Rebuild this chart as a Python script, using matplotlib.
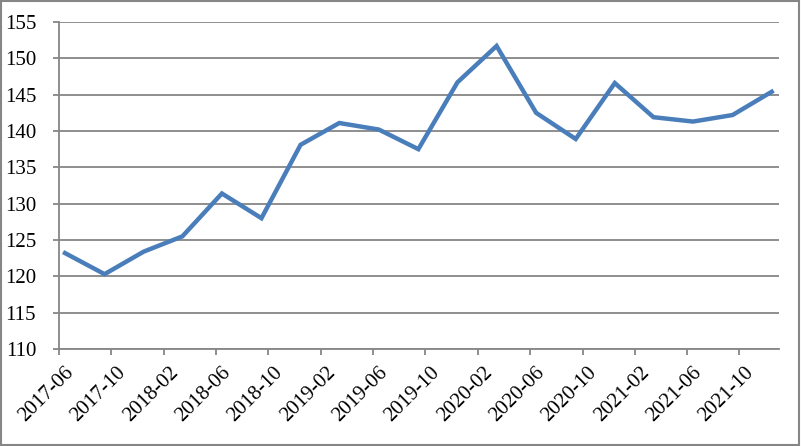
import numpy as np
import pandas as pd
import matplotlib
matplotlib.use("Agg")
import matplotlib.pyplot as plt
import matplotlib.transforms as mtransforms
from matplotlib.patches import Rectangle

# quarterly values
dates = pd.date_range("2017-06-01", periods=19, freq="3MS") + pd.Timedelta(days=14)
values = [123.2, 120.3, 123.4, 125.5, 131.4, 128.0, 138.1, 141.1, 140.2, 137.5,
          146.7, 151.7, 142.5, 138.9, 146.6, 141.9, 141.3, 142.2, 145.4]

tick_dates = pd.date_range("2017-06-01", "2021-10-01", freq="4MS")
tick_labels = [d.strftime("%Y-%m") for d in tick_dates]

grey = "#868686"
plt.rcParams["font.family"] = ["Liberation Serif", "DejaVu Serif"]
plt.rcParams["xtick.labelsize"] = 15
plt.rcParams["ytick.labelsize"] = 15

fig = plt.figure(figsize=(8.01, 4.46), dpi=100)
ax = fig.add_axes([59/801, 1-349/446, 720/801, 327/446])

ax.plot(dates, values, color="#4A7EBB", lw=3.2, solid_joinstyle="miter", zorder=3)

ax.set_ylim(110, 155)
ax.set_yticks(np.arange(110, 156, 5))
ax.set_xlim(pd.Timestamp("2017-06-01"), pd.Timestamp("2022-01-01"))
ax.set_xticks(tick_dates)
ax.set_xticklabels(tick_labels)

ax.grid(axis="y", color=grey, lw=1.3, zorder=0)
for s in ["top", "right"]:
    ax.spines[s].set_visible(False)
for s in ["left", "bottom"]:
    ax.spines[s].set_color(grey)
    ax.spines[s].set_linewidth(1.3)

ax.tick_params(axis="y", length=4.5, width=1.3, color=grey, pad=12)
ax.tick_params(axis="x", length=4, width=1.3, color=grey, pad=6)

off = mtransforms.ScaledTranslation(5/100, 0, fig.dpi_scale_trans)
for lab in ax.get_xticklabels():
    lab.set_rotation(45)
    lab.set_ha("right")
    lab.set_va("top")
    lab.set_rotation_mode("anchor")
    lab.set_transform(lab.get_transform() + off)

fig.patches.append(Rectangle((0.001, 0.002), 0.997, 0.995, transform=fig.transFigure,
                             fill=False, edgecolor=grey, lw=1.5))

fig.savefig("out.png", dpi=100)
